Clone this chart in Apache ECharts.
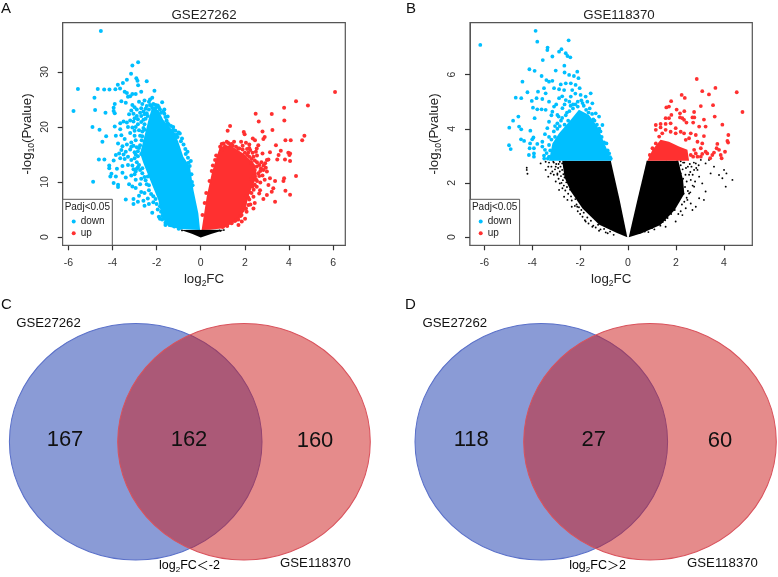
<!DOCTYPE html>
<html><head><meta charset="utf-8">
<style>html,body{margin:0;padding:0;background:#fff}#c{width:778px;height:577px}</style>
<script src="https://cdn.jsdelivr.net/npm/echarts@6/dist/echarts.min.js"></script>
</head><body><div id="c"></div>
<script>
const titleA = 'GSE27262', titleB = 'GSE118370';
const xTicksA = [-6,-4,-2,0,2,4,6], yTicksA = [0,10,20,30];
const xTicksB = [-6,-4,-2,0,2,4], yTicksB = [0,2,4,6];
const legendTitle = 'Padj<0.05';

// Panel A: dense regions (outlines, x = log2FC, y = -log10 P)
const aDownCloud = [[-0.03,1.27],[-0.11,4.3],[-0.33,8.55],[-0.49,12.8],[-0.79,14.6],[-0.94,16.4],[-1.16,18.85],[-1.7,21.3],[-1.92,23.1],[-2.22,23.4],[-2.37,21.3],[-2.52,18.85],[-2.75,15.2],[-2.6,13.4],[-2.3,10.4],[-1.92,6.7],[-1.77,3.7],[-1.47,1.87],[-0.79,1.4]];
const aUpCloud = [[0.04,1.27],[0.27,7.3],[0.5,11.6],[0.72,14.6],[0.87,16.4],[1.33,16.7],[1.93,15.2],[2.45,13.2],[2.55,11],[2.23,8.2],[2,4.9],[1.7,3.1],[1.03,1.6],[0.42,1.3]];
const aNsCloud = [[-0.9,1.25],[-0.4,0.6],[0,-0.1],[0.5,0.6],[1.1,1.3]];
// Panel A: individual points
const aDown = [[-4.53,37.45],[-2.84,31.76],[-3.1,31.2],[-3.16,29.7],[-2.92,28.85],[-2.87,28.4],[-2.84,27.6],[-2.45,28.3],[-3.35,28.6],[-3.53,28],[-3.76,27.7],[-5.57,26.9],[-4.67,26.9],[-4.38,26.8],[-4.14,26.8],[-3.87,26.85],[-3.66,27],[-4.82,25.3],[-5.77,22.9],[-4.79,23.1],[-4.32,22.6],[-4.91,20],[-4.59,19.5],[-4.29,18.3],[-4.46,17.3],[-4.62,14.1],[-4.37,14.1],[-4.88,10.06],
[-3.9,24.2],[-3.95,23.5],[-3.95,22.9],[-3.9,22.5],[-3.6,24.7],[-3.4,24.4],[-3.3,25.5],[-3.2,25.6],[-3.1,26],[-2.95,26],[-2.7,26.4],[-3.35,26.2],[-3.45,26.4],[-3.1,24],[-3,23.6],[-2.8,24.6],[-2.65,24.2],[-2.55,24.8],[-2.3,25],[-2.2,25.3],[-2.1,26.6],[-2.3,24],[-2.45,23.8],[-2.7,23.4],[-2.9,23.2],[-3.15,23],[-3.05,22.4],[-2.9,22],[-3.2,21.2],[-3.35,20.8],[-3.5,21],[-3.65,20.7],[-3.9,20.1],[-3.65,19.6],[-3.85,18.4],[-3.6,18.5],[-3.75,17],[-3.45,17.8],[-3.2,18.9],[-3,19.3],[-3.3,20],[-3.05,21],[-2.85,20.5],[-2.7,20.9],[-2.55,19.5],[-2.6,21.3],[-2.75,18.4],[-2.95,17.6],[-3.15,17.2],[-3.35,16.8],[-3.55,16.5],[-3.6,15.8],[-3.4,15.5],[-3.2,15.9],[-3,15.4],[-3.7,15.2],[-3.5,15],[-3.85,14.9],[-3.3,14.6],[-3.65,14.3],[-3.45,14.2],[-3.95,13.9],[-3.15,14],[-2.9,13.6],[-3.3,13.1],[-3.55,12.9],[-3.8,12.4],[-4.15,13],[-4.15,12.5],[-4.05,11.5],[-4.1,11],[-3.85,11],[-3.55,11.7],[-3.4,10.8],[-3.15,11.2],[-3,11.4],[-2.95,10.4],[-3.25,9.6],[-3.1,9.2],[-2.95,8.9],[-2.75,9.6],[-2.7,10.6],[-3.95,9.8],[-3.75,9.5],[-3.75,9.1],[-2.7,8.2],[-2.8,7.5],[-2.6,6.6],[-2.4,7],[-2.55,8],[-2.35,8.5],[-3.4,6.8],[-3.05,6.9],[-3.05,6],[-2.85,6.4],[-2.55,5.7],[-2.35,6],[-2.15,6.3],[-2.2,4.4],[-1.95,5],[-1.9,3.7],[-2.4,11],[-2.65,12.5],[-2.9,12.4],[-2.7,15.1],[-2.85,14.7],[-2.55,17.3],[-2.75,16.7],[-3,18.4],[-2.75,22.6],[-2.55,22.3],[-2.4,22],[-1.9,23.6],[-1.75,24.5],[-1.65,23.2],[-1.5,21.9],[-1.65,22.4],[-1.5,20.7],[-1.25,20],[-1,19],[-1.1,18.6],[-0.9,17.4],[-0.7,16],[-0.6,15.5],[-0.58,14.4],[-0.45,13.8],[-0.4,10],[-2.05,23.4],[-2.2,23.5],[-1.3,19.3],[-1.4,3],[-1.1,2.2],[-1.3,2.4],[-1.6,2.6],[-1.75,3.8],[-1.85,3.3],[-0.9,1.7],[-1.65,5],
[-2.55,20.5],[-2.5,21.5],[-2.45,22.5],[-2.35,23.2],[-2.25,23.9],[-2.15,24.2],[-2.05,24],[-1.95,23.9],[-1.85,23.2],[-1.8,22.6],[-1.7,22.8],[-1.6,21.8],[-1.55,21.2],[-1.45,20.4],[-1.35,20.2],[-1.25,19.5],[-1.15,19.3],[-1.05,18.2],[-0.95,18.8],[-0.85,17.9],[-0.78,16.8],[-0.68,15.1],[-0.55,13.5],[-0.5,12.9],[-0.42,11.4],[-0.37,9.4],
[-2.6,19.8],[-2.65,18.3],[-2.68,17.6],[-2.8,16.2],[-2.85,15.6],[-2.8,13.1],[-2.85,12.7],[-2.75,12.2],[-2.65,11.6],[-2.55,10.9],[-2.5,10.3],[-2.45,9.6],[-2.35,9.4],[-2.25,7.8],[-2.15,7.4],[-2.05,6.9],[-2,6],[-1.85,5.6],[-1.8,4.6],[-1.75,3.2],[-1.6,2.2],[-1.5,2.8],[-1.2,1.9],[-1,1.5],
[-3.25,22.3],[-3,21.6],[-2.85,21.4],[-2.7,22],[-2.6,22.8],[-2.5,23.3],[-2.35,24.6],[-2.95,20],[-2.8,19.4],[-2.65,19.2],[-3.1,19.9],[-2.9,16.3],[-3.05,16.6],[-3.15,16.4],[-3,14.3],[-2.95,15],[-3.1,13],[-3.05,12.3],[-2.95,11.9]];
const aUp = [[6.09,26.36],[4.32,24.67],[4.86,23.9],[3.78,23.5],[3.22,22.36],[2.49,22.4],[3.79,21.2],[2.63,21],[3.25,19.45],[2.8,19.2],[1.33,20.2],[1.22,19.3],[1.95,19.1],[1.99,18.7],[4.7,18.4],[4.6,17.6],[4.08,17.6],[3.84,17.6],[2.9,18.2],[2.84,17.8],[2.36,17.9],[2.46,17.6],[1.51,17.3],[1.83,17.3],[2.05,17.15],[3.41,16.7],[2.61,16.7],[2.54,16.1],[3.63,15.7],[3.97,15.3],[4.05,15.2],[4.02,14.9],[3.82,14.1],[3.47,14.1],[3.53,14.9],[4.05,13.8],[3.14,15.4],[3.07,14.1],[2.8,15.2],[3,14],[2.92,13.4],[2.84,12.2],[3,11.9],[2.73,12.5],[2.54,12.8],[3.14,10.7],[3.37,10.2],[3.78,10.7],[3.75,10.2],[4.32,11.1],[3.84,8.4],[4.05,7.7],[3.29,8.85],[3.07,9.45],[3.22,8.24],[3,7.64],[2.84,6.9],[3.37,6.4],[2.69,8.5],[2.54,9.15],[2.39,7.3],[2.16,5.8],[2.39,5.2],[2.08,4.6],[2.01,3.3],[1.86,2.8],[1.71,2.2],[2.39,11],[2.61,11.6],[2.39,14.6],[2.24,15.8],[0.88,16.4],[1.03,17],[1.18,17.3],[2.2,16.2],[2.3,13.5],[2.45,12.2],[2.3,10.5],[2.45,9.5],[2.2,8.2],[2.05,7.4],[1.95,5.6],[1.8,3.8],[1.55,2.9],[2.15,15.3],[1.7,16.1],[1.4,16.9],[0.95,15.9],[0.7,14.8],[0.55,13],
[0.95,16.9],[1.1,16.5],[1.25,17.1],[1.35,16.8],[1.45,16.6],[1.6,16.4],[1.75,16.1],[1.9,15.9],[2,15.3],[2.1,14.9],[2.2,14.6],[2.3,14.2],[2.45,13.9],[2.55,13.6],[2.65,13.1],[2.7,12],[2.65,11.1],[2.5,10.5],[2.55,10.2],[2.35,9.2],[2.4,8.6],[2.3,8],[2.15,7.2],[2.2,6.8],[2,6.2],[2.05,5.2],[1.9,4.8],[1.85,4],[1.7,3.2],[1.6,3.1],[1.4,2.5],[1.2,2],[1,1.8],[2.75,13.6],[2.85,13],[2.95,12.6],[2.8,11.2],[2.9,10.4],[2.7,9.9],[2.65,7.9],[2.45,6.2],[2.25,5.9],[2.55,14.8],[2.35,15.3],[2.5,15.5],[2.2,16.8],[2.1,16],[1.9,16.6],[0.65,14],[0.5,12],[0.4,10.2],[0.25,8],[0.18,6.2],[0.08,4]];
const aNs = [[-0.85,1.2],[0.85,1.2],[0.9,1.1],[1.05,1.25]];

// Panel B: dense regions
const bNsCloudL = [[-0.03,-0.01],[-0.35,1.37],[-0.72,2.82],[-2.75,2.82],[-2.65,2.2],[-2.4,1.7],[-1.9,1.05],[-1.2,0.45],[-0.46,0.15]];
const bNsCloudR = [[0.03,-0.01],[0.39,1.37],[0.78,2.82],[2.1,2.82],[2.3,2.1],[2.35,1.6],[1.95,1],[1.35,0.44],[0.57,0.14]];
const bDownCloud = [[-0.68,2.82],[-0.93,3.34],[-1.28,4.08],[-1.63,4.51],[-2.05,4.7],[-2.39,4.33],[-2.88,3.83],[-3.16,3.46],[-3.3,2.82]];
const bUpCloud = [[0.81,2.82],[1.02,3.22],[1.36,3.59],[1.71,3.52],[2.13,3.34],[2.48,3.22],[2.55,2.82]];
// Panel B: individual points
const bDown = [[-6.17,7.1],[-3.86,7.62],[-3.79,7.22],[-2.48,7.27],[-3.36,7],[-3.37,6.91],[-2.78,6.94],[-2.88,6.85],[-2.6,6.79],[-2.53,6.69],[-2.41,6.64],[-3.16,6.67],[-3.56,6.54],[-2.66,6.33],[-3.02,6.15],[-2.65,6.08],[-2.12,6.11],[-4.12,6.2],[-3.9,6.14],[-3.61,5.95],[-2.46,5.99],[-2.26,5.95],[-2.07,5.87],[-3.41,5.8],[-3.3,5.74],[-3.16,5.77],[-4.41,5.74],[-2.81,5.64],[-2.6,5.68],[-2.39,5.68],[-2.19,5.62],[-3.51,5.5],[-3.09,5.5],[-2.88,5.46],[-2.67,5.43],[-2.33,5.43],[-2.02,5.5],[-4.2,5.35],[-3.76,5.37],[-3.44,5.31],[-4.69,5.15],[-4.46,5.13],[-3.82,5.13],[-3.58,5.1],[-4.02,5.03],[-3.3,5],[-2.88,5.13],[-2.6,5.06],[-2.39,5.19],[-1.98,5.25],[-1.77,5.19],[-1.56,5.31],[-1.7,5],[-1.49,4.94],[-3.97,4.78],[-3.79,4.72],[-3.61,4.72],[-3.44,4.7],[-3.09,4.82],[-3.16,4.63],[-2.95,4.51],[-2.74,4.76],[-4.58,4.45],[-3.9,4.39],[-4.8,4.3],[-3.3,4.26],[-2.95,4.2],[-4.96,4.04],[-4.55,4.08],[-4.46,3.98],[-4.08,3.93],[-3.37,4.02],[-4.47,3.61],[-4.34,3.55],[-3.95,3.68],[-4,3.61],[-4.09,3.46],[-3.47,3.8],[-3.58,3.52],[-3.79,3.44],[-4.97,3.39],[-4.9,3.25],[-4.11,3.28],[-3.93,3.28],[-4.14,3.03],[-3.93,3.09],[-3.93,2.97],[-3.58,3.34],[-3.47,3.22],[-3.51,3.01],[-3.3,2.97],[-1.07,4.14],[-1.21,4.45],[-1.35,4.57],[-0.9,3.46],[-0.79,3.09],[-3.2,4.5],[-3,4.9],[-2.75,5.2],[-2.45,5],[-2.2,5.3],[-2.3,4.9],[-2.1,5],[-1.9,4.95],[-1.6,4.75],[-1.4,4.3],[-1.15,3.9],[-2.6,4.5],[-2.8,4.3],[-3.05,4.1],[-3.3,3.7],[-3.25,3.2],[-0.95,3.1],[-0.75,2.95],
[-3.3,3.4],[-3.4,3.1],[-3.35,2.9],[-3.2,3.6],[-3.1,3.9],[-3,3.3],[-3.05,3.7],[-2.95,4],[-2.85,4.1],[-2.75,4.4],[-2.65,4.15],[-2.55,4.6],[-2.45,4.65],[-2.4,4.85],[-2.3,4.75],[-2.2,4.9],[-2.1,4.82],[-1.95,5.05],[-1.85,4.85],[-1.75,4.7],[-1.65,4.6],[-1.5,4.55],[-1.45,4.35],[-1.3,4.15],[-1.2,4],[-1.1,3.7],[-1,3.5],[-0.85,3.2],[-0.72,2.9],[-3.5,2.9],[-3.15,2.9],[-3.1,3.1],[-2.9,4.45],[-2.65,4.9],[-2.5,4.3]];
const bUp = [[2.87,5.84],[3.1,5.39],[3.65,5.51],[3.38,5.27],[4.54,5.35],[2.24,5.25],[2.37,5.14],[4.78,4.62],[3.55,4.87],[3.04,4.84],[1.8,5.02],[1.6,4.79],[1.71,4.82],[2.03,4.71],[2.35,4.65],[2.17,4.57],[1.81,4.51],[2.76,4.62],[3.62,4.45],[3.17,4.34],[2.69,4.42],[2.77,4.42],[2.17,4.42],[2.27,4.39],[2.34,4.33],[1.57,4.39],[1.71,4.39],[1.16,4.14],[1.36,4.18],[1.57,4.18],[1.78,4.2],[1.99,4.02],[2.44,4.23],[2.72,4.23],[2.97,4.08],[3.24,4.08],[3.94,4.15],[1.36,4.05],[1.16,3.96],[4.19,3.77],[4.15,3.55],[4.18,3.49],[3.73,3.44],[3.7,3.28],[3.17,3.73],[2.83,3.77],[2.62,3.83],[2.9,3.52],[3.1,3.46],[3.04,3.28],[3.24,3.15],[3.31,3.09],[3.1,3.07],[3.04,2.97],[4.05,3.15],[3.8,3.22],[3.59,3.12],[3.52,3.03],[3.87,3.03],[3.91,2.91],[3.43,2.91],[2.76,3.22],[2.83,3.09],[2.62,3.03],[2.41,3.59],[2.55,3.65],[2.34,3.83],[2.2,3.89],[1.99,3.83],[1.78,3.89],[1.57,3.96],[1.43,3.83],[1.3,3.71],[1.16,3.46],[1.02,3.28],[0.91,3.03],[2.72,2.97],[2.9,2.97]];
const bNs = [[-4.23,2.56],[-4.23,2.48],[-4.2,2.34],[-3.65,2.72],[-3.44,2.78],[-3.33,2.6],[-3.16,2.42],[-3.44,2.48],[-3.23,2.35],[-3.33,2.23],[-3.02,2.05],[-3.02,2.6],[-2.88,1.74],[-2.85,1.98],[-2.74,1.8],[-2.67,1.49],[-2.53,1.37],[-2.35,1.12],[-2.12,1.12],[-1.77,0.57],[-1.49,0.38],[-1.21,0.23],[-0.93,0.17],[-2.95,2.3],[-2.9,2.7],[-3.1,2.75],
[-3.3,2.75],[-3.2,2.6],[-3.12,2.78],[-3.05,2.5],[-3.1,2.3],[-3,2.7],[-2.95,2.35],[-2.92,2.55],[-2.9,2.15],[-2.85,2.78],[-2.85,2.42],[-2.82,2.6],[-2.8,2.25],[-2.78,2],[-2.75,2.72],[-2.75,2.48],[-2.72,2.1],[-2.7,2.32],[-2.68,1.9],[-2.65,2.62],[-2.65,2.2],[-2.62,1.72],[-2.6,2.42],[-2.6,2.78],[-2.58,2.02],[-2.55,2.55],[-2.55,1.85],[-2.52,2.28],[-2.5,1.6],[-2.5,2.7],[-2.48,2.12],[-2.45,1.95],[-2.45,2.45],[-2.42,1.75],[-2.4,2.6],[-2.4,2.25],[-2.38,1.5],[-2.35,2.05],[-2.35,1.35],[-2.32,1.85],[-2.3,2.75],[-2.28,2.35],[-2.25,1.62],[-2.22,1.15],[-2.2,1.4],[-2.15,1.2],[-2.1,0.95],[-2.05,1.1],[-2,0.85],[-1.95,1],[-1.9,0.75],[-1.85,0.9],[-1.8,0.62],[-1.7,0.72],[-1.65,0.5],[-1.55,0.6],[-1.45,0.42],[-1.35,0.35],[-1.25,0.45],[-1.15,0.28],[-1,0.3],[-0.85,0.14],[-0.75,0.2],[-0.6,0.08],
[4.36,2.11],[4.08,1.86],[4.01,2.48],[4.11,2.35],[3.94,2.17],[3.8,2.29],[3.59,2.6],[3.45,2.35],[3.24,1.68],[3.17,1.37],[2.97,1.43],[2.83,2.72],[2.76,2.48],[2.97,2.23],[3.1,1.98],[2.83,1.12],[2.69,1],[2.62,1.24],[2.41,1.06],[1.99,0.57],[1.57,0.38],[2.76,1.86],[2.62,2.11],[2.9,2.48],[3.24,2.72],[3.04,2.85],[3.38,2.85],[2.55,1.61],[2.48,1.37],[2.27,0.81],[2.3,2.75],[2.5,2.6],[2.6,2.4],[2.2,2.8],
[1.6,2.78],[1.7,2.6],[1.75,2.35],[1.8,2.75],[1.85,2.5],[1.9,2.2],[1.95,2.65],[2,2.35],[2.05,2.8],[2.05,1.95],[2.1,2.5],[2.12,2.15],[2.15,1.75],[2.2,2.65],[2.2,2.35],[2.25,1.95],[2.28,2.5],[2.3,2.15],[2.32,1.6],[2.35,2.75],[2.38,1.85],[2.4,2.3],[2.42,2.55],[2.45,1.45],[2.45,2.05],[2.5,1.7],[2.55,2.3],[2.58,2.7],[2.1,1.3],[2.15,1.5],[2,1.25],[1.95,1],[1.9,1.4],[1.8,0.85],[1.7,0.95],[1.65,0.7],[1.55,0.62],[1.45,0.55],[1.35,0.42],[1.25,0.5],[1.1,0.28],[1,0.33],[0.85,0.18],[0.7,0.2],[2.25,1.2],[2.35,1.3],[2.2,0.95],[2.1,0.85],[2.65,2.6],[2.7,2.3],[2.75,2.75],[2.85,2.55],[2.95,2.65],[2.7,1.9],[2.8,2.05],[2.6,1.65]];

// Venn panels
const vennSets = ['GSE27262','GSE118370'];
const vennCountsC = [167,162,160];
const vennCountsD = [118,27,60];

const BLUE = '#00BFFF', RED = '#FF3030', BLACK = '#000';
const FONT = '"Liberation Sans", Arial, sans-serif';
const TXT = '#222';
const rich = {
  a:{fontSize:13.3,fontFamily:FONT,color:TXT,verticalAlign:'top',lineHeight:16},
  s:{fontSize:8.5,fontFamily:FONT,color:TXT,verticalAlign:'top',lineHeight:16,padding:[6,0,0,0]}
};
function axisX(idx,min,max,ticks){return {gridIndex:idx,type:'value',position:'bottom',min,max,splitLine:{show:false},axisLine:{show:true,onZero:false,lineStyle:{color:'#555',width:1}},
  axisTick:{show:true,inside:false,length:5,customValues:ticks,lineStyle:{color:'#333',width:1.2}},
  axisLabel:{customValues:ticks,fontSize:10.5,fontFamily:FONT,color:'#333',margin:12},
  name:'{a|log}{s|2}{a|FC}',nameLocation:'middle',nameGap:28,nameTextStyle:{rich}};}
function axisY(idx,min,max,ticks){return {gridIndex:idx,type:'value',position:'left',min,max,splitLine:{show:false},axisLine:{show:true,onZero:false,lineStyle:{color:'#555',width:1}},
  axisTick:{show:true,inside:false,length:5,customValues:ticks,lineStyle:{color:'#333',width:1.2}},
  axisLabel:{customValues:ticks,rotate:90,fontSize:10.5,fontFamily:FONT,color:'#333',margin:12},
  name:'{a|-log}{s|10}{a|(Pvalue)}',nameLocation:'middle',nameGap:26,nameTextStyle:{rich}};}
function cloud(name,idx,polys,fill,z){return {type:'custom',name,xAxisIndex:idx,yAxisIndex:idx,coordinateSystem:'cartesian2d',z,silent:true,
  data:polys.map((p,i)=>[i]),
  renderItem:(params,api)=>({type:'polygon',shape:{points:polys[params.dataIndex].map(pt=>api.coord(pt))},style:{fill}})};}
function pts(name,idx,data,color,size,z){return {type:'scatter',name,xAxisIndex:idx,yAxisIndex:idx,data,symbol:'circle',symbolSize:size,itemStyle:{color,opacity:1},z,silent:true};}
function legendAt(left,top){return {left,top,orient:'vertical',itemWidth:4,itemHeight:4,itemGap:1.7,padding:0,selectedMode:false,z:30,
  textStyle:{fontSize:10,fontFamily:FONT,color:TXT,padding:[0,0,0,0]},
  data:[{name:'down',icon:'circle',itemStyle:{color:BLUE}},{name:'up',icon:'circle',itemStyle:{color:RED}}]};}
function legendBox(x,y){return [
  {type:'rect',z:20,shape:{x,y,width:49.6,height:46},style:{fill:'#fff',stroke:'#555',lineWidth:1}},
  {type:'text',z:21,x:x+24.6,y:y+7.5,style:{text:legendTitle,font:'10px '+FONT,fill:TXT,align:'center',verticalAlign:'middle'}}
];}
function vennText(cx,cy,t,size,extra){return {type:'text',z:25,x:cx,y:cy,style:Object.assign({text:t,font:size+'px '+FONT,fill:'#111',align:'center',verticalAlign:'middle'},extra||{})};}
function vennShapes(bx,rx,cy){return {type:'scatter',xAxisIndex:2,yAxisIndex:2,silent:true,symbol:'circle',symbolSize:[252.6,236.6],z:3,
  data:[{value:[bx,cy],itemStyle:{color:'rgba(21,55,173,0.5)',opacity:1,borderColor:'#5a70c9',borderWidth:1}},
        {value:[rx,cy],itemStyle:{color:'rgba(203,23,23,0.5)',opacity:1,borderColor:'#d9525c',borderWidth:1}}]};}
const subRich = {a:{fontSize:12.5,fontFamily:FONT,color:'#222',verticalAlign:'top',lineHeight:15},
  s:{fontSize:8,fontFamily:FONT,color:'#222',verticalAlign:'top',lineHeight:15,padding:[6,0,0,0]},
  f:{fontSize:12,fontFamily:'"Noto Sans CJK SC"',color:'#222',verticalAlign:'top',lineHeight:15}};

const option = {
  animation:false,backgroundColor:'#fff',
  title:[
    {text:titleA,left:199,top:4,textAlign:'center',textStyle:{fontSize:13.3,fontWeight:'normal',fontFamily:FONT,color:TXT}},
    {text:titleB,left:614,top:4,textAlign:'center',textStyle:{fontSize:13.3,fontWeight:'normal',fontFamily:FONT,color:TXT}}
  ],
  grid:[
    {left:62.7,top:22.7,width:282.6,height:222.6,show:true,borderColor:'#555',borderWidth:1.2,backgroundColor:'transparent'},
    {left:470,top:22.7,width:282.3,height:222.6,show:true,borderColor:'#555',borderWidth:1.2,backgroundColor:'transparent'},
    {left:0,top:0,width:778,height:577,show:false}
  ],
  xAxis:[axisX(0,-6.26,6.555,xTicksA),axisX(1,-6.6,5.19,xTicksB),{gridIndex:2,type:'value',show:false,min:0,max:778}],
  yAxis:[axisY(0,-1.51,38.96,yTicksA),axisY(1,-0.307,7.92,yTicksB),{gridIndex:2,type:'value',show:false,min:0,max:577,inverse:true}],
  legend:[legendAt(71.7,216.5),legendAt(478.7,216.5)],
  series:[
    pts('down',0,aDown,BLUE,4,5), pts('up',0,aUp,RED,4,5), pts('ns',0,aNs,BLACK,1.8,6),
    cloud('down',0,[aDownCloud],BLUE,4), cloud('up',0,[aUpCloud],RED,4), cloud('ns',0,[aNsCloud],BLACK,6),
    pts('down',1,bDown,BLUE,3.8,5), pts('up',1,bUp,RED,3.8,5), pts('ns',1,bNs,BLACK,1.9,4),
    cloud('down',1,[bDownCloud],BLUE,5), cloud('up',1,[bUpCloud],RED,5), cloud('ns',1,[bNsCloudL,bNsCloudR],BLACK,4),
    vennShapes(135.7,244,441.7), vennShapes(541.3,650,441.7)
  ],
  graphic:[
    ...legendBox(62.7,199.3), ...legendBox(470,199.3),
    {type:'text',z:25,x:1,y:1,style:{text:'A',font:'15px '+FONT,fill:'#111'}},
    {type:'text',z:25,x:406,y:1,style:{text:'B',font:'15px '+FONT,fill:'#111'}},
    {type:'text',z:25,x:1,y:297,style:{text:'C',font:'15px '+FONT,fill:'#111'}},
    {type:'text',z:25,x:405,y:297,style:{text:'D',font:'15px '+FONT,fill:'#111'}},
    vennText(48.5,323.5,vennSets[0],13.2), vennText(315.5,563.5,vennSets[1],13.2),
    vennText(454.8,323.5,vennSets[0],13.2), vennText(722.5,563.5,vennSets[1],13.2),
    vennText(65,440,String(vennCountsC[0]),22), vennText(189,440,String(vennCountsC[1]),22), vennText(315,441,String(vennCountsC[2]),22),
    vennText(471.3,440,String(vennCountsD[0]),22), vennText(593.7,440,String(vennCountsD[1]),22), vennText(720,441,String(vennCountsD[2]),22),
    {type:'text',z:25,x:189.5,y:567,style:{text:'{a|log}{s|2}{a|FC}{f|＜}{a|-2}',rich:subRich,align:'center',verticalAlign:'middle'}},
    {type:'text',z:25,x:597.5,y:567,style:{text:'{a|log}{s|2}{a|FC}{f|＞}{a|2}',rich:subRich,align:'center',verticalAlign:'middle'}}
  ]
};
const chart = echarts.init(document.getElementById('c'),null,{renderer:'canvas'});
chart.setOption(option);
</script></body></html>
